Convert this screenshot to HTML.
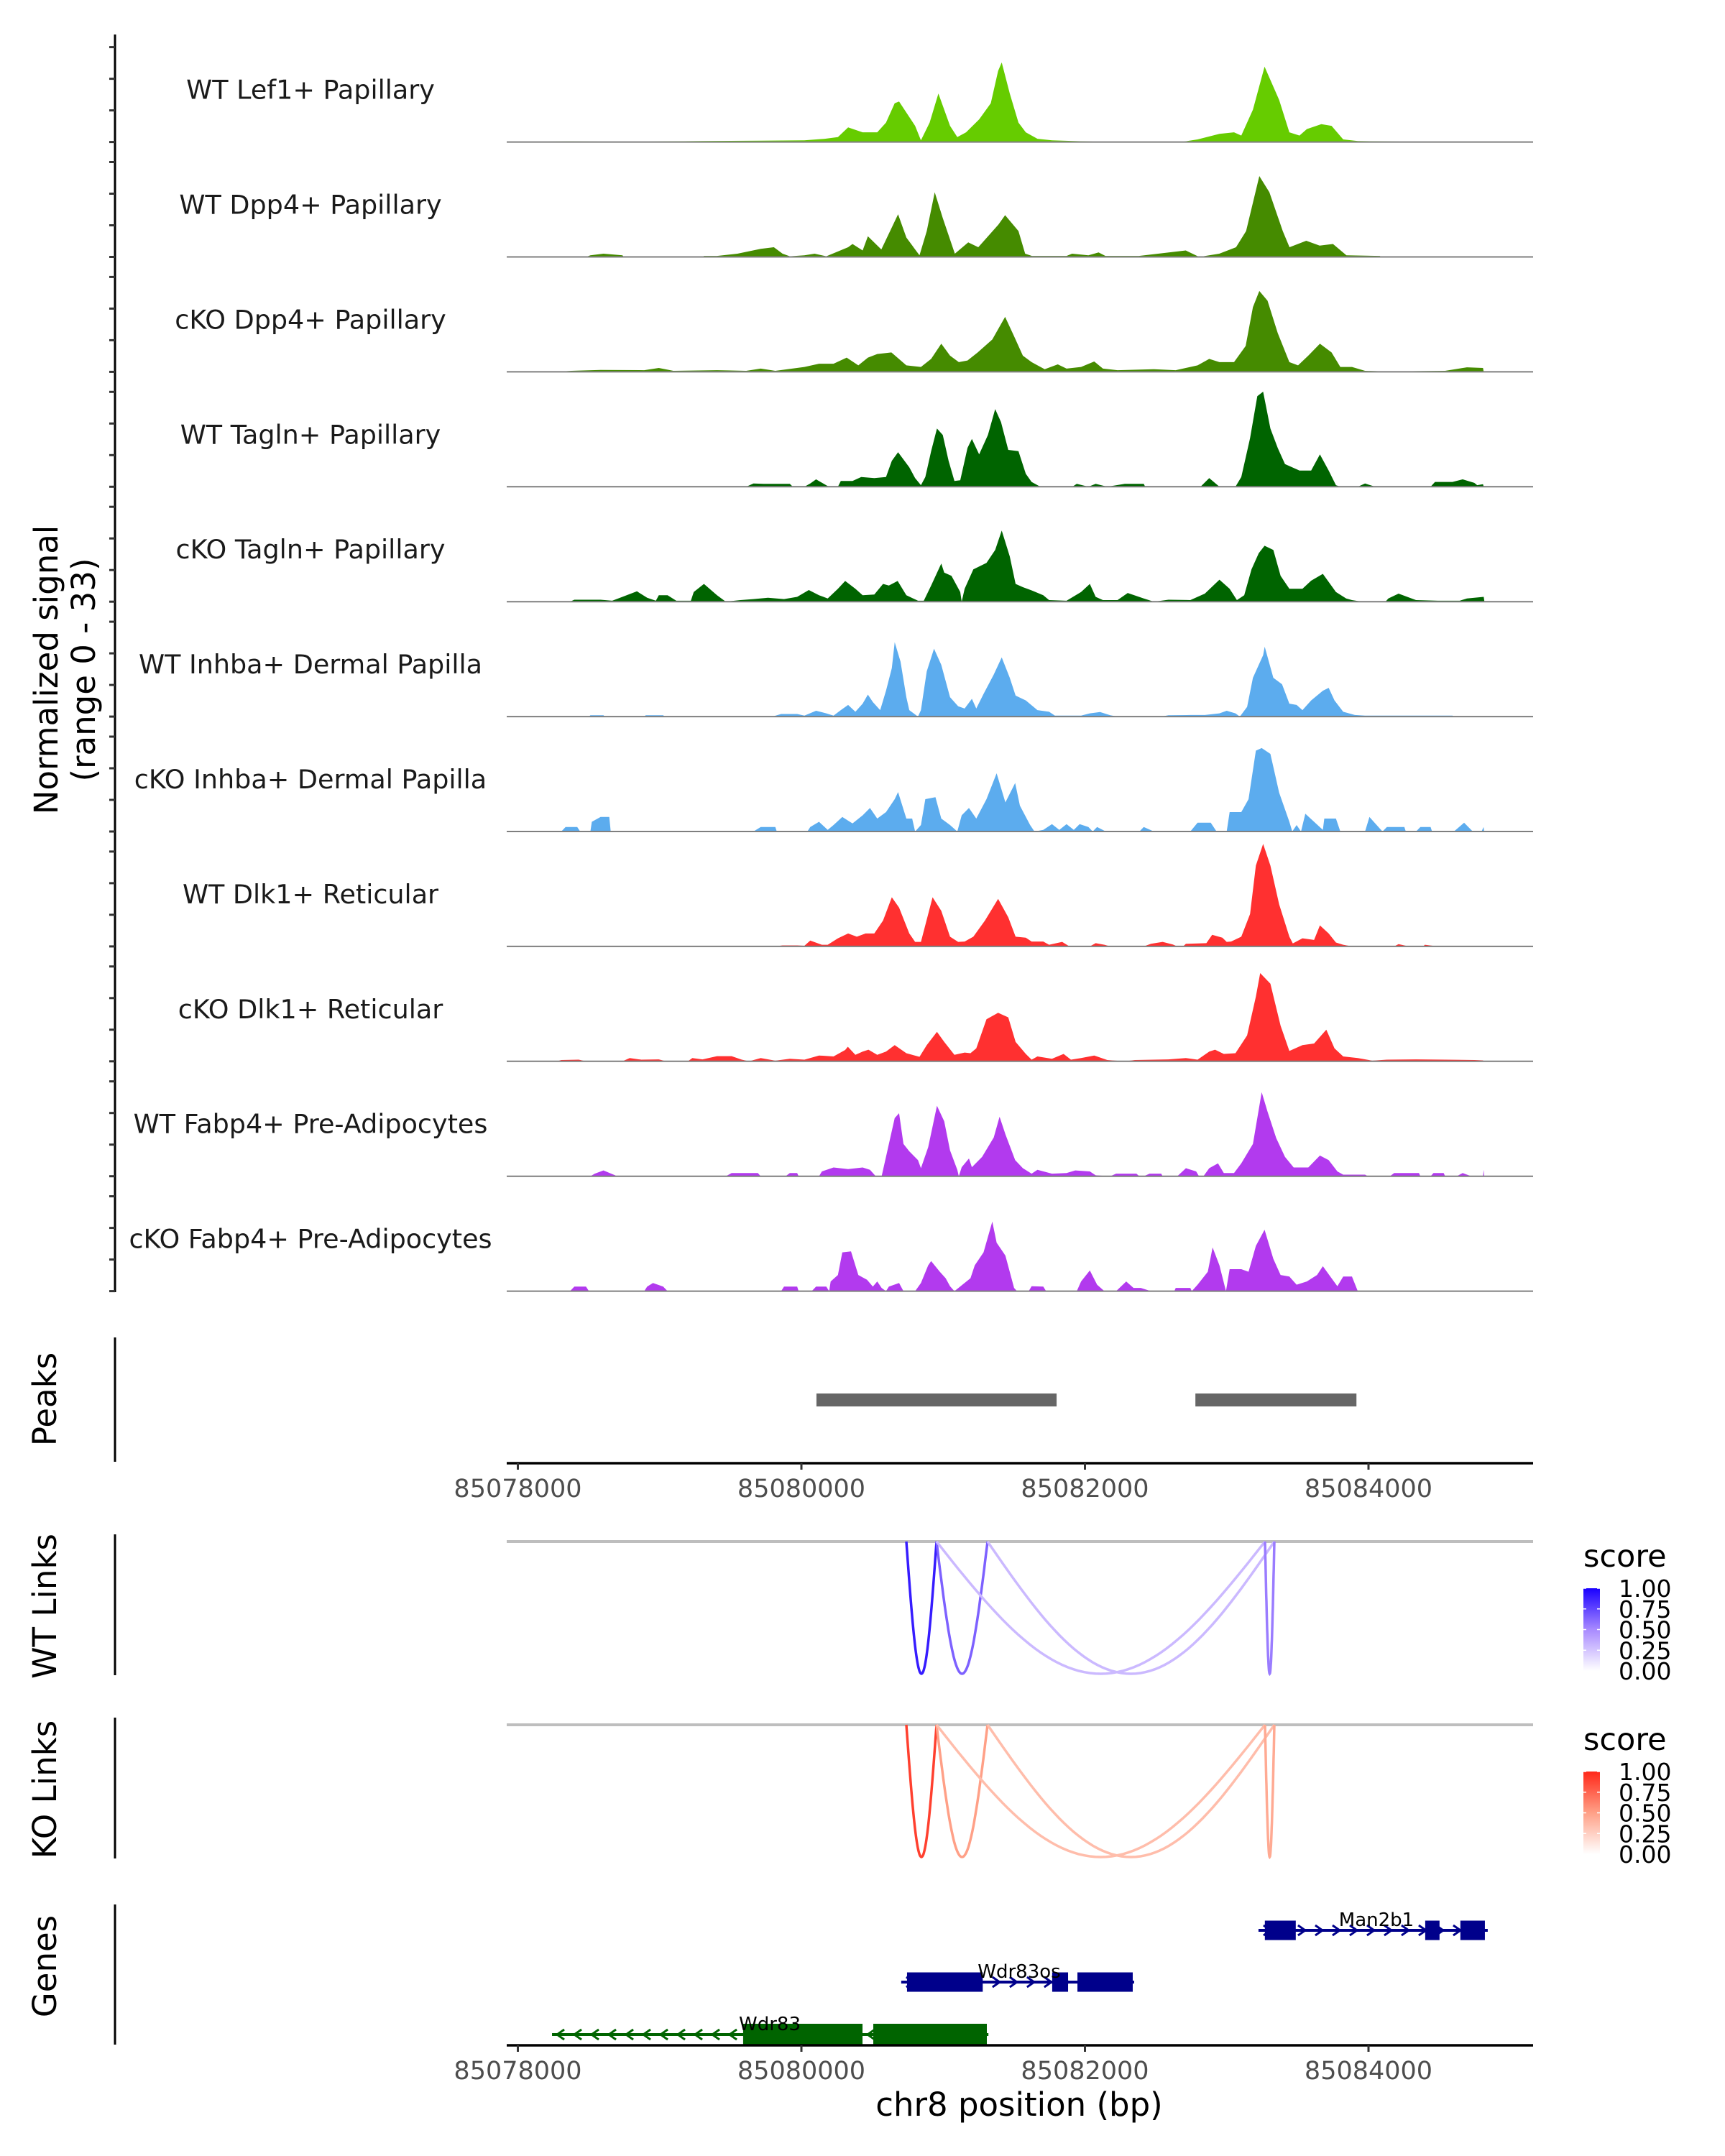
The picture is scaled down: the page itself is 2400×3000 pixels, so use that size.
<!DOCTYPE html>
<html><head><meta charset="utf-8"><style>
html,body{margin:0;padding:0;background:#fff;}
svg{display:block;font-family:"DejaVu Sans","Liberation Sans",sans-serif;}
</style></head><body>
<svg id="chart" width="2400" height="3000" viewBox="0 0 2400 3000" xmlns="http://www.w3.org/2000/svg"></svg>
<script>
// ---------- data ----------
const trackNames = ["WT Lef1+ Papillary","WT Dpp4+ Papillary","cKO Dpp4+ Papillary","WT Tagln+ Papillary","cKO Tagln+ Papillary","WT Inhba+ Dermal Papilla","cKO Inhba+ Dermal Papilla","WT Dlk1+ Reticular","cKO Dlk1+ Reticular","WT Fabp4+ Pre-Adipocytes","cKO Fabp4+ Pre-Adipocytes"];
const trackColors = ["#66cc00","#458b00","#458b00","#006400","#006400","#5cacee","#5cacee","#ff3030","#ff3030","#b23aee","#b23aee"];
// coverage: [offset from 85078000 (bp), normalized signal]
const covLef1WT = [[0,0],[390,0.2],[800,0.1],[1300,0.3],[1700,0.4],[2000,0.5],[2140,1],[2230,1.5],[2300,4.5],[2400,3],[2500,3],[2560,6],[2620,12],[2650,12.5],[2760,5],[2800,0.5],[2860,6],[2920,15],[3000,5],[3050,1.5],[3110,3],[3200,7],[3280,12],[3330,22],[3355,24.6],[3410,15],[3470,6],[3520,3],[3600,1],[3700,0.5],[3850,0.3],[4100,0],[4600,0.1],[4700,0.8],[4850,2.5],[4950,3],[5000,2],[5080,10],[5160,23.3],[5260,13],[5330,3],[5400,2],[5450,4],[5550,5.5],[5620,5],[5700,0.8],[5800,0.3],[6200,0.1],[6700,0]];
const covDpp4WT = [[500,0],[530,0.5],[620,1],[750,0.5],[760,0],[1300,0],[1310,0.3],[1400,0.3],[1540,1],[1700,2.5],[1790,3],[1850,1],[1900,0.2],[2000,0.5],[2070,1],[2150,0.2],[2300,3],[2330,4],[2400,2],[2436,6.4],[2528,2.3],[2643,13.2],[2700,6],[2790,0.5],[2840,8],[2895,20],[2950,12],[3033,1],[3125,4.5],[3194,3],[3332,10],[3378,12.9],[3470,8],[3516,1],[3562,0.3],[3800,0.3],[3838,1],[3950,0.5],[4020,1.4],[4067,0.3],[4297,0.3],[4619,2],[4711,0],[4849,1],[4964,3],[5033,8],[5124,25],[5193,20],[5285,8],[5331,3],[5446,5],[5538,3.5],[5630,4],[5722,0.5],[5952,0.3],[5960,0]];
const covDpp4KO = [[300,0],[400,0.3],[600,0.6],[900,0.5],[1000,1.2],[1100,0.3],[1400,0.5],[1600,0.3],[1700,1],[1800,0.3],[2000,1.5],[2100,2.5],[2200,2.5],[2290,4.4],[2370,2],[2436,4.4],[2500,5.5],[2597,6],[2700,2],[2800,1.5],[2870,4],[2940,8.7],[3000,5],[3060,3],[3120,3.5],[3190,6],[3290,10],[3378,17],[3440,11],[3500,5],[3560,3],[3650,0.8],[3740,2.3],[3800,1],[3900,1.5],[3990,3.2],[4050,1],[4150,0.5],[4400,0.8],[4550,0.5],[4700,2],[4780,4],[4850,3],[4950,3],[5030,8],[5080,20],[5124,25],[5180,22],[5250,12],[5330,3],[5390,2],[5460,5],[5540,8.7],[5620,6],[5680,1.5],[5760,1.5],[5850,0.3],[6000,0.1],[6400,0.3],[6550,1.4],[6660,1.2],[6665,0]];
const covTaglnWT = [[1600,0],[1650,1],[1720,0.9],[1900,0.9],[1920,0],[2000,0],[2040,1],[2080,2.3],[2160,0.2],[2230,0],[2250,1.8],[2330,1.8],[2390,3],[2480,2.7],[2560,3],[2600,8],[2643,10.7],[2720,6],[2760,2.7],[2800,0.5],[2830,3],[2870,11],[2910,18],[2950,16],[2990,8],[3030,1.8],[3070,2],[3120,12],[3150,14.8],[3200,10],[3260,16],[3310,24],[3350,20],[3400,11.4],[3470,11],[3520,4],[3560,1.5],[3620,0],[3840,0],[3870,0.9],[3950,0],[4000,0.9],[4080,0],[4200,0.9],[4330,0.9],[4340,0],[4720,0],[4780,2.7],[4850,0],[4960,0],[5000,3],[5060,15],[5110,28],[5150,29.4],[5200,18],[5250,12],[5300,7],[5400,5],[5480,5],[5540,10],[5600,5],[5650,0.5],[5680,0],[5800,0],[5850,1],[5920,0],[6300,0],[6330,1.5],[6450,1.5],[6520,2.3],[6600,1.2],[6620,0.5],[6660,0.8],[6665,0]];
const covTaglnKO = [[390,0],[420,0.6],[600,0.6],[680,0.3],[750,1.5],[850,3.2],[920,1.2],[980,0.3],[1000,2],[1060,2],[1120,0.3],[1220,0.3],[1240,3],[1310,5.5],[1400,2],[1460,0],[1560,0.5],[1650,0.8],[1750,1.2],[1860,0.8],[1950,1.5],[2030,3.6],[2100,2],[2160,1],[2230,4],[2280,6.4],[2350,4],[2400,2],[2480,2.2],[2540,5.5],[2580,5],[2640,6.4],[2700,2],[2780,0.3],[2820,0.3],[2870,5],[2940,11.8],[2960,9],[3010,8],[3070,3],[3080,0],[3100,4],[3160,10],[3250,12],[3310,16],[3355,22],[3410,14],[3450,5.5],[3500,4.5],[3560,3.5],[3640,2],[3680,0.5],[3800,0.3],[3900,3],[3960,5.5],[4000,1.5],[4050,0.5],[4150,0.5],[4220,2.7],[4330,1],[4400,0],[4500,0.6],[4650,0.5],[4750,2.5],[4850,6.8],[4920,4],[4970,0.5],[5020,2],[5070,10],[5120,15],[5160,17.3],[5220,16],[5270,8],[5330,4],[5420,4],[5480,6.5],[5560,8.6],[5650,3],[5720,1],[5760,0.5],[5830,0],[5990,0],[6010,1],[6080,2.5],[6200,0.5],[6350,0.3],[6500,0.3],[6550,1],[6665,1.5],[6670,0]];
const covInhbaWT = [[520,0],[530,0.4],[620,0.4],[630,0],[900,0],[910,0.4],[1030,0.4],[1040,0],[1780,0],[1840,0.8],[1950,0.8],[2000,0.3],[2080,1.8],[2150,1],[2200,0.3],[2250,2],[2300,3.6],[2350,1.5],[2400,4],[2436,6.8],[2470,4.5],[2520,2],[2560,8],[2600,15],[2620,23],[2660,17],[2700,6],[2720,2],[2780,0],[2800,2],[2840,14],[2890,21],[2940,16],[3000,6],[3056,3.2],[3100,2.5],[3150,5.5],[3180,2.5],[3230,7],[3300,13],[3355,18.3],[3410,12],[3450,6.5],[3520,5],[3600,2],[3680,1.5],[3720,0.3],[3900,0.3],[3960,1],[4030,1.4],[4100,0.4],[4150,0],[4450,0],[4500,0.4],[4650,0.5],[4750,0.5],[4850,1],[4900,1.8],[4960,1],[4990,0],[5040,3],[5080,12],[5150,19],[5161,21.6],[5220,12],[5280,10],[5330,4],[5380,3.6],[5420,2],[5480,5],[5560,8],[5600,8.9],[5640,5],[5700,1.5],[5780,0.5],[5850,0.3],[6100,0.3],[6400,0.3],[6450,0.3],[6460,0]];
const covInhbaKO = [[330,0],[360,1.4],[440,1.4],[460,0],[530,0],[540,3],[600,4.5],[660,4.5],[670,0],[1650,0],[1700,1.4],[1800,1.4],[1810,0],[2020,0],[2040,1.4],[2100,3],[2160,0.5],[2200,2],[2260,4.5],[2330,2.5],[2400,5],[2450,7.3],[2500,4],[2560,6],[2620,10],[2643,12.2],[2700,4],[2740,4],[2760,0],[2800,2],[2830,10],[2900,10.6],[2940,4],[3000,2],[3050,0],[3080,5],[3130,7.3],[3180,4],[3250,10],[3320,18],[3380,9],[3447,15],[3480,8],[3550,2],[3580,0],[3640,0.5],[3700,2.3],[3750,0.5],[3800,2.3],[3850,0.5],[3890,2.3],[3950,1.4],[3980,0],[4010,1.4],[4070,0],[4300,0],[4330,1.4],[4400,0],[4650,0],[4700,2.7],[4790,2.7],[4830,0],[4900,0],[4920,6],[5000,6],[5050,10],[5100,25],[5140,25.8],[5200,24],[5260,12],[5330,3],[5350,0],[5380,2],[5410,0],[5440,5.5],[5500,3],[5560,0.5],[5570,4],[5650,4],[5680,0],[5850,0],[5880,4.5],[5940,1.5],[5970,0],[6000,1.4],[6120,1.4],[6130,0],[6200,0],[6230,1.4],[6300,1.4],[6310,0],[6460,0],[6530,2.7],[6590,0],[6650,0],[6664,1.4],[6668,0]];
const covDlk1WT = [[1800,0],[1850,0.3],[1950,0.3],[2000,0.2],[2040,1.8],[2120,0.5],[2160,0.5],[2230,2.5],[2300,4],[2360,3],[2420,4],[2480,4],[2540,8],[2600,15.2],[2650,12],[2720,4],[2760,1.4],[2800,1.4],[2850,10],[2880,15.2],[2940,11],[3000,3],[3056,1.4],[3100,1.5],[3160,3],[3240,8],[3330,14.7],[3400,9],[3450,3],[3520,2.7],[3560,1.5],[3640,1.5],[3680,0.5],[3770,1.4],[3820,0],[3960,0],[4000,1],[4060,0.5],[4100,0],[4330,0],[4380,0.8],[4460,1.4],[4530,0.6],[4560,0],[4600,0],[4620,0.8],[4760,1],[4800,3.6],[4870,2.7],[4900,1.4],[4930,1.5],[5000,3],[5060,10],[5100,25],[5150,31.7],[5200,25],[5260,13],[5330,3],[5354,0.9],[5420,2.5],[5500,2],[5540,6.5],[5600,4],[5650,1.2],[5700,0.5],[5760,0],[6050,0],[6080,0.7],[6150,0],[6250,0],[6260,0.5],[6350,0],[6400,0]];
const covDlk1KO = [[300,0],[330,0.4],[450,0.5],[500,0],[750,0],[800,1],[880,0.5],[1000,0.6],[1050,0],[1200,0],[1230,1],[1300,0.6],[1400,1.6],[1500,1.6],[1570,0.5],[1620,0],[1700,1],[1800,0.2],[1900,0.8],[2000,0.5],[2100,1.8],[2200,1.5],[2280,3.5],[2298,4.5],[2350,2],[2400,3],[2440,3.6],[2500,2],[2560,3],[2620,5],[2700,2.5],[2790,1.4],[2840,5],[2910,9.1],[2960,6],[3030,2],[3100,2.7],[3140,2.5],[3180,4],[3250,13],[3330,15],[3400,13.6],[3450,6],[3520,2.3],[3560,0.5],[3600,1.5],[3700,0.8],[3780,2.3],[3830,0.5],[3900,1],[3990,1.8],[4080,0.4],[4200,0],[4270,0.4],[4500,0.6],[4620,1],[4700,0.5],[4780,3],[4820,3.6],[4880,2.3],[4960,2.5],[5040,8],[5100,20],[5130,27.3],[5200,24],[5270,11],[5330,3.2],[5420,5],[5500,5.5],[5584,9.8],[5640,4],[5700,1.5],[5800,1],[5900,0.2],[6000,0.5],[6200,0.6],[6400,0.5],[6600,0.4],[6660,0.3],[6665,0]];
const covFabp4WT = [[530,0],[560,0.8],[620,1.8],[700,0.3],[710,0],[1460,0],[1500,1],[1680,1],[1700,0],[1870,0],[1900,1],[1950,1],[1960,0],[2100,0],[2120,1.5],[2200,2.7],[2300,2.2],[2400,2.7],[2450,2],[2490,0],[2530,0],[2570,8],[2620,18],[2650,19.5],[2680,10],[2720,7.7],[2780,5],[2800,2.5],[2850,9],[2910,21.8],[2960,17],[3000,8],[3050,2],[3060,0],[3080,2.8],[3130,5.5],[3150,2.8],[3220,6],[3300,12],[3340,18.4],[3380,13],[3447,5],[3500,2.5],[3560,0.8],[3600,2],[3700,0.8],[3800,1],[3860,1.8],[3960,1.5],[4000,0.3],[4100,0],[4140,0.8],[4280,0.8],[4300,0],[4330,0],[4370,0.8],[4450,0.8],[4460,0],[4560,0],[4620,2.5],[4690,1.5],[4710,0],[4740,0],[4780,2.5],[4840,4],[4880,1],[4950,1],[5000,4],[5080,10],[5140,26],[5180,20],[5240,11.8],[5300,6],[5360,2.7],[5460,2.7],[5540,6.4],[5600,5],[5660,1.5],[5700,0.5],[5850,0.5],[5870,0],[6020,0],[6050,1],[6220,1],[6230,0],[6300,0],[6320,1],[6390,1],[6400,0],[6480,0],[6520,1],[6580,0],[6660,0],[6665,2],[6668,0]];
const covFabp4KO = [[390,0],[420,1.4],[500,1.4],[520,0],[900,0],[920,1.4],[960,2.5],[1030,1.4],[1060,0],[1840,0],[1860,1.4],[1950,1.4],[1960,0],[2050,0],[2080,1.4],[2150,1.4],[2170,0],[2180,3],[2230,5],[2260,12],[2320,12.3],[2370,5],[2430,3.5],[2470,1.4],[2500,3],[2530,1],[2560,0],[2580,1.4],[2650,2.5],[2680,0],[2760,0],[2800,2.5],[2850,8],[2870,9.3],[2930,6],[2970,4],[3000,1.5],[3030,0],[3140,4],[3170,8],[3230,12],[3290,21.5],[3320,15],[3380,11],[3440,1],[3460,0],[3540,0],[3560,1.5],[3640,1.4],[3660,0],[3870,0],[3900,3],[3960,6.4],[4010,2],[4060,0],[4140,0],[4210,3],[4260,1],[4310,1],[4380,0],[4540,0],[4550,1],[4650,1],[4660,0],[4700,2],[4770,6],[4803,13.5],[4850,8],[4895,0],[4920,6.8],[5000,6.8],[5050,6],[5100,14],[5160,19],[5220,10],[5270,5],[5330,4.5],[5380,2],[5450,3],[5520,5],[5560,7.7],[5620,4],[5660,1.5],[5700,4.5],[5760,4.5],[5800,0],[5810,0]];
const coverage = [covLef1WT,covDpp4WT,covDpp4KO,covTaglnWT,covTaglnKO,covInhbaWT,covInhbaKO,covDlk1WT,covDlk1KO,covFabp4WT,covFabp4KO];
const peakStarts = [85080106, 85082779];
const peakEnds = [85081800, 85083915];
const axisTicks = [85078000, 85080000, 85082000, 85084000];
const wtLinkStarts = [85080740, 85080953, 85080953, 85081313, 85083270];
const wtLinkEnds = [85080953, 85081313, 85083270, 85083336, 85083336];
const wtLinkScores = [0.9, 0.65, 0.3, 0.3, 0.55];
const koLinkStarts = [85080740, 85080953, 85080953, 85081313, 85083270];
const koLinkEnds = [85080953, 85081313, 85083270, 85083336, 85083336];
const koLinkScores = [0.9, 0.5, 0.35, 0.35, 0.45];
const legendTicks = ["1.00","0.75","0.50","0.25","0.00"];
const geneNames = ["Man2b1","Wdr83os","Wdr83"];
const geneStarts = [85083224, 85080704, 85078241];
const geneEnds = [85084841, 85082347, 85081319];
const geneStrands = [1, 1, -1];
const geneExons = [[[85083269,85083487],[85084400,85084501],[85084648,85084821]],[[85080745,85081279],[85081769,85081881],[85081947,85082337]],[[85079589,85080431],[85080507,85081308]]];

// ---------- scales ----------
const X0 = 720.5, PXBP = 0.19725, START = 85078000;
const xs = bp => X0 + (bp - START) * PXBP;
// coverage offsets were read on a slightly different calibration
const covX = off => 714 + off * 0.2026;
const UNIT = 4.5;
const baseY = i => 197.6 + 159.9 * i;

const NS = "http://www.w3.org/2000/svg";
const svg = document.getElementById("chart");
function mk(tag, attrs, parent) {
  const e = document.createElementNS(NS, tag);
  for (const k in attrs) e.setAttribute(k, attrs[k]);
  (parent || svg).appendChild(e);
  return e;
}
function txt(s, attrs, parent) { const t = mk("text", attrs, parent); t.textContent = s; return t; }

// ---------- left axis for coverage ----------
const yAxis = mk("line", {x1:160,y1:48,x2:160,y2:1798,stroke:"#000","stroke-width":3});


for (let i = 0; i < 11; i++) {
  for (let k = 0; k < 4; k++) {
    const y = baseY(i) - 44 * k;
    const tk = mk("line", {x1:152,y1:y,x2:160,y2:y,stroke:"#333","stroke-width":3});
    
    
  }
}
const yTitle = mk("text", {transform:"translate(86,932) rotate(-90)","text-anchor":"middle","font-size":45,fill:"#000"});


const ty1 = mk("tspan", {x:0,dy:-6}, yTitle); ty1.textContent = "Normalized signal";
const ty2 = mk("tspan", {x:0,dy:52}, yTitle); ty2.textContent = "(range 0 - 33)";

// ---------- tracks ----------
for (let i = 0; i < 11; i++) {
  const g = mk("g", {});
  
  
  const b = baseY(i);
  const pts = coverage[i];
  let d = "M" + covX(pts[0][0]).toFixed(1) + "," + b;
  for (const p of pts) d += " L" + covX(p[0]).toFixed(1) + "," + (b - p[1] * UNIT).toFixed(1);
  d += " L" + covX(pts[pts.length-1][0]).toFixed(1) + "," + b + " Z";
  const area = mk("path", {d:d, fill:trackColors[i]}, g);
  
  
  const bl = mk("line", {x1:705,y1:b,x2:2133,y2:b,stroke:"#7f7f7f","stroke-width":2}, g);
  
  
  const lab = txt(trackNames[i], {x:432,y:b-60,"text-anchor":"middle","font-size":36.5,fill:"#1a1a1a"}, g);
  
  
}

// ---------- panel helpers ----------
function sideLabel(s, cy, y1, y2, name) {
  const t = txt(s, {transform:"translate(78," + cy + ") rotate(-90)","text-anchor":"middle","font-size":45,fill:"#000"});
  
  
  const l = mk("line", {x1:160,y1:y1,x2:160,y2:y2,stroke:"#000","stroke-width":3});
  
  
}
function xAxis(y, name) {
  const g = mk("g", {});
  
  
  mk("line", {x1:705,y1:y,x2:2133,y2:y,stroke:"#000","stroke-width":3.5}, g);
  for (const t of axisTicks) {
    const x = xs(t);
    mk("line", {x1:x,y1:y,x2:x,y2:y+9,stroke:"#333","stroke-width":3}, g);
    const tl = txt(String(t), {x:x,y:y+47,"text-anchor":"middle","font-size":35,fill:"#4d4d4d"}, g);
    
    
  }
}

// ---------- peaks ----------
sideLabel("Peaks", 1947, 1861, 2034, "peaks-label");
for (let i = 0; i < peakStarts.length; i++) {
  const r = mk("rect", {x:xs(peakStarts[i]),y:1939,width:xs(peakEnds[i])-xs(peakStarts[i]),height:18,fill:"#666666"});
  
  
}
xAxis(2036, "peaks-x-axis");

// ---------- links ----------
function mix(stops, t) {
  let a = stops[0], b = stops[1], u = t / 0.5;
  if (t > 0.5) { a = stops[1]; b = stops[2]; u = (t - 0.5) / 0.5; }
  return "rgb(" + [0,1,2].map(k => Math.round(a[k] + (b[k]-a[k]) * u)).join(",") + ")";
}
const blueStops = [[255,255,255],[168,138,255],[26,0,255]];
const redStops = [[255,255,255],[255,160,135],[255,40,25]];
function linksPanel(top, starts, ends, scores, stops, label, lname) {
  sideLabel(label, top + 90, top - 10, top + 186, lname);
  const gl = mk("line", {x1:705,y1:top,x2:2133,y2:top,stroke:"#bebebe","stroke-width":4});
  
  
  const depth = 184;
  for (let i = 0; i < starts.length; i++) {
    const xa = xs(starts[i]), xb = xs(ends[i]);
    let d = "";
    for (let k = 0; k <= 60; k++) {
      const t = k / 60;
      d += (k ? " L" : "M") + (xa + (xb - xa) * t).toFixed(1) + "," + (top + depth * Math.sin(Math.PI * t)).toFixed(1);
    }
    const p = mk("path", {d:d,fill:"none",stroke:mix(stops, scores[i]),"stroke-width":3.5});
    
    
  }
  // legend
  const lg = mk("g", {});
  
  
  txt("score", {x:2203,y:top+35,"font-size":43,fill:"#000"}, lg);
  const gid = "grad" + top;
  const defs = mk("defs", {}, lg);
  const grad = mk("linearGradient", {id:gid,x1:0,y1:1,x2:0,y2:0}, defs);
  mk("stop", {offset:"0","stop-color":mix(stops,0)}, grad);
  mk("stop", {offset:"0.5","stop-color":mix(stops,0.5)}, grad);
  mk("stop", {offset:"1","stop-color":mix(stops,1)}, grad);
  mk("rect", {x:2203,y:top+65,width:23,height:115,fill:"url(#"+gid+")"}, lg);
  for (let k = 0; k < legendTicks.length; k++) {
    const y = top + 65 + k * 28.75;
    mk("line", {x1:2203,y1:y,x2:2207,y2:y,stroke:"#fff","stroke-width":1.5}, lg);
    mk("line", {x1:2222,y1:y,x2:2226,y2:y,stroke:"#fff","stroke-width":1.5}, lg);
    txt(legendTicks[k], {x:2252,y:y+12,"font-size":33,fill:"#000"}, lg);
  }
}
linksPanel(2145, wtLinkStarts, wtLinkEnds, wtLinkScores, blueStops, "WT Links", "wt-links-label");
linksPanel(2400, koLinkStarts, koLinkEnds, koLinkScores, redStops, "KO Links", "ko-links-label");

// ---------- genes ----------
sideLabel("Genes", 2736, 2650, 2845, "genes-label");
const geneY = [2686, 2758, 2831];
for (let i = 0; i < geneNames.length; i++) {
  const g = mk("g", {});
  
  
  const col = geneStrands[i] > 0 ? "#00008b" : "#006400";
  const y = geneY[i];
  const x1 = xs(geneStarts[i]), x2 = xs(geneEnds[i]);
  mk("line", {x1:x1,y1:y,x2:x2,y2:y,stroke:col,"stroke-width":4}, g);
  for (let x = x1 + 12; x < x2 - 6; x += 24) {
    const s = geneStrands[i];
    mk("path", {d:"M"+(x-5*s)+","+(y-7)+" L"+(x+5*s)+","+y+" L"+(x-5*s)+","+(y+7),fill:"none",stroke:col,"stroke-width":3}, g);
  }
  const h = i === 2 ? 30 : 27;
  for (const ex of geneExons[i]) {
    mk("rect", {x:xs(ex[0]),y:y-h/2,width:xs(ex[1])-xs(ex[0]),height:h,fill:col}, g);
  }
  const gl = txt(geneNames[i], {x:[1915,1418,1071][i],y:y-6,"text-anchor":"middle","font-size":26,fill:"#000"}, g);
  
  
}
xAxis(2846, "genes-x-axis");
const xt = txt("chr8 position (bp)", {x:1418,y:2944,"text-anchor":"middle","font-size":45,fill:"#000"});


</script>
</body></html>
